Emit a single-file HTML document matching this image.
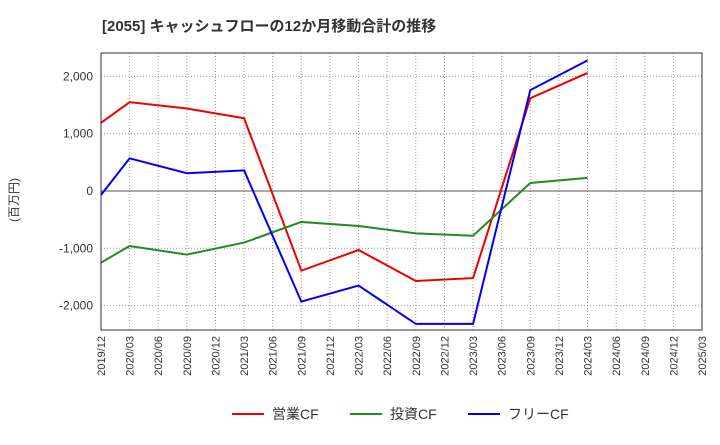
<!DOCTYPE html>
<html><head><meta charset="utf-8"><style>
body{margin:0;background:#fff;font-family:"Liberation Sans","Noto Sans CJK JP",sans-serif}
</style></head><body>
<svg width="720" height="440" xmlns="http://www.w3.org/2000/svg" id="chart">
<text x="102" y="31" font-size="15" font-weight="bold" fill="#333" font-family="Liberation Sans, Noto Sans CJK JP, sans-serif">[2055]  キャッシュフローの12か月移動合計の推移</text>
<text x="0" y="0" transform="translate(18,200) rotate(-90)" font-size="12" fill="#333" text-anchor="middle" font-family="Liberation Sans, Noto Sans CJK JP, sans-serif">(百万円)</text>
<g id="grid"></g><g id="series"></g><g id="axes"></g>
<g font-size="14" font-family="Liberation Sans, Noto Sans CJK JP, sans-serif" fill="#333">
<line x1="232" y1="414" x2="264" y2="414" stroke="#e00" stroke-width="2"/><text x="272" y="419">営業CF</text>
<line x1="350" y1="414" x2="382" y2="414" stroke="#228b22" stroke-width="2"/><text x="390" y="419">投資CF</text>
<line x1="468" y1="414" x2="500" y2="414" stroke="#00e" stroke-width="2"/><text x="508" y="419">フリーCF</text>
</g>
</svg>
<script>
const xLabels=["2019/12","2020/03","2020/06","2020/09","2020/12","2021/03","2021/06","2021/09","2021/12","2022/03","2022/06","2022/09","2022/12","2023/03","2023/06","2023/09","2023/12","2024/03","2024/06","2024/09","2024/12","2025/03"];
const pointIdx=[0,1,3,5,7,9,11,13,15,17];
const operatingCF=[1190,1550,1440,1270,-1390,-1030,-1570,-1520,1620,2060];
const investingCF=[-1250,-960,-1110,-900,-540,-610,-740,-780,140,230];
const freeCF=[-70,570,310,360,-1930,-1650,-2320,-2320,1760,2280];
const yTicks=[-2000,-1000,0,1000,2000];
const yTickLabels=["-2,000","-1,000","0","1,000","2,000"];
const L=101,R=702,T=53,B=330,NS="http://www.w3.org/2000/svg";
const xs=i=>L+i*(R-L)/(xLabels.length-1);
const ys=v=>191-v*0.0573;
function mk(t,a,p){const e=document.createElementNS(NS,t);for(const k in a)e.setAttribute(k,a[k]);p.appendChild(e);return e;}
const g=document.getElementById('grid'),s=document.getElementById('series'),ax=document.getElementById('axes');
xLabels.forEach((lb,i)=>{
 const l=mk('line',{x1:xs(i),x2:xs(i),y1:T,y2:B,stroke:'#999','stroke-dasharray':'1,2'},g);
 
 
 const t=mk('text',{transform:`translate(${xs(i)+4},${B+6}) rotate(-90)`,'text-anchor':'end','font-size':11,fill:'#333'},ax);
 t.textContent=lb;
 
 
});
yTicks.forEach((v,i)=>{
 const l=mk('line',{x1:L,x2:R,y1:ys(v),y2:ys(v),stroke:v===0?'#555':'#999','stroke-dasharray':v===0?'':'1,2'},g);
 
 
 const t=mk('text',{x:L-8,y:ys(v)+4,'text-anchor':'end','font-size':12,fill:'#333'},ax);
 t.textContent=yTickLabels[i];
 
 
});
const fr=mk('rect',{x:L,y:T,width:R-L,height:B-T,fill:'none',stroke:'#333'},ax);


[[operatingCF,'#e00','operating-cf-line'],[investingCF,'#228b22','investing-cf-line'],[freeCF,'#00e','free-cf-line']].forEach(([d,c,n])=>{
 const p=mk('polyline',{points:d.map((v,i)=>xs(pointIdx[i])+','+ys(v)).join(' '),fill:'none',stroke:c,'stroke-width':2},s);
 
 
});
</script>
</body></html>
